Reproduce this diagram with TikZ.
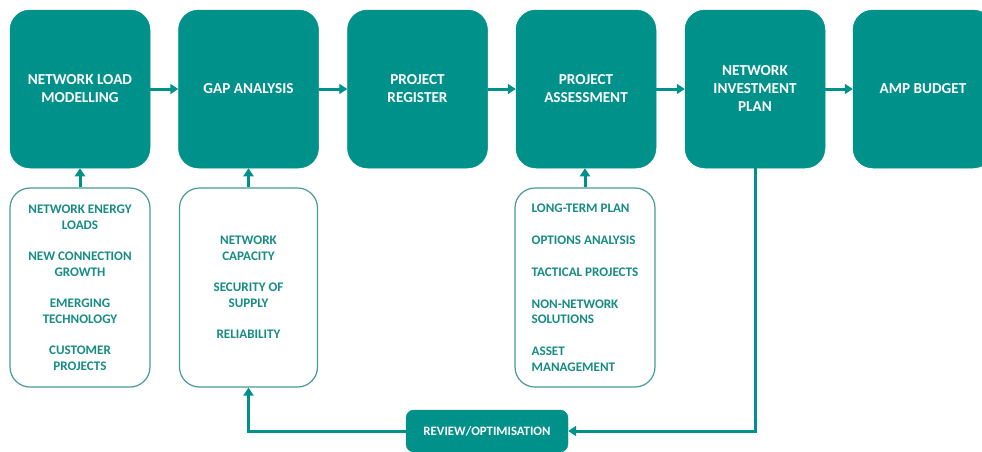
\documentclass[tikz,border=0pt]{standalone}
\usepackage{fontspec}
\setmainfont{Carlito}
\usetikzlibrary{arrows.meta}
\definecolor{teal1}{RGB}{0,145,138}
\definecolor{tealtxt}{RGB}{22,140,132}
\definecolor{tealline}{RGB}{70,155,150}
\tikzset{
  mainbox/.style={draw=teal1, fill=teal1, rounded corners=20pt, minimum width=140pt, minimum height=158pt,
    text=white, font=\fontsize{15.2}{18}\selectfont\bfseries, align=center, inner sep=0pt, line width=0.5pt},
  subbox/.style={draw=tealline, fill=white, rounded corners=20pt, minimum height=199pt,
    text=tealtxt, font=\fontsize{13.1}{15.5}\selectfont\bfseries, inner sep=0pt, line width=1.2pt},
  revbox/.style={draw=teal1, fill=teal1, rounded corners=8pt, minimum width=162pt, minimum height=42pt,
    text=white, font=\fontsize{12.8}{15}\selectfont\bfseries, inner sep=0pt},
  conn/.style={draw=teal1, line width=3pt, -{Triangle[length=8pt,width=10pt]}}
}
\begin{document}
\begin{tikzpicture}[x=1pt,y=-1pt]
\useasboundingbox (0,0) rectangle (982,451);
\node[mainbox] (b1) at (80,89) {NETWORK LOAD\\MODELLING};
\node[mainbox] (b2) at (248.5,89) {GAP ANALYSIS};
\node[mainbox] (b3) at (417.5,89) {PROJECT\\REGISTER};
\node[mainbox] (b4) at (586,89) {PROJECT\\ASSESSMENT};
\node[mainbox] (b5) at (755,89) {NETWORK\\INVESTMENT\\PLAN};
\node[mainbox] (b6) at (923,89) {AMP BUDGET};

\node[subbox, minimum width=140pt, align=center] (sa) at (80,287.5)
  {NETWORK ENERGY\\LOADS\\[16pt]NEW CONNECTION\\GROWTH\\[16pt]EMERGING\\TECHNOLOGY\\[16pt]CUSTOMER\\PROJECTS};
\node[subbox, minimum width=138pt, align=center] (sb) at (248.5,287.5)
  {NETWORK\\CAPACITY\\[16pt]SECURITY OF\\SUPPLY\\[16pt]RELIABILITY};
\node[subbox, minimum width=140pt, align=left] (sc) at (585,287.5)
  {LONG-TERM PLAN\\[16.5pt]OPTIONS ANALYSIS\\[16.5pt]TACTICAL PROJECTS\\[16.5pt]NON-NETWORK\\SOLUTIONS\\[16.5pt]ASSET\\MANAGEMENT};

\node[revbox] (rev) at (487,431) {REVIEW/OPTIMISATION};

\draw[conn] (b1.east) -- (b2.west);
\draw[conn] (b2.east) -- (b3.west);
\draw[conn] (b3.east) -- (b4.west);
\draw[conn] (b4.east) -- (b5.west);
\draw[conn] (b5.east) -- (b6.west);

\draw[conn] (sa.north) -- (b1.south);
\draw[conn] (sb.north) -- (b2.south);
\draw[conn] (sc.north) -- (sc.north |- b4.south);

\draw[conn] (b5.south) |- (rev.east);
\draw[conn] (rev.west) -| (sb.south);
\end{tikzpicture}
\end{document}
